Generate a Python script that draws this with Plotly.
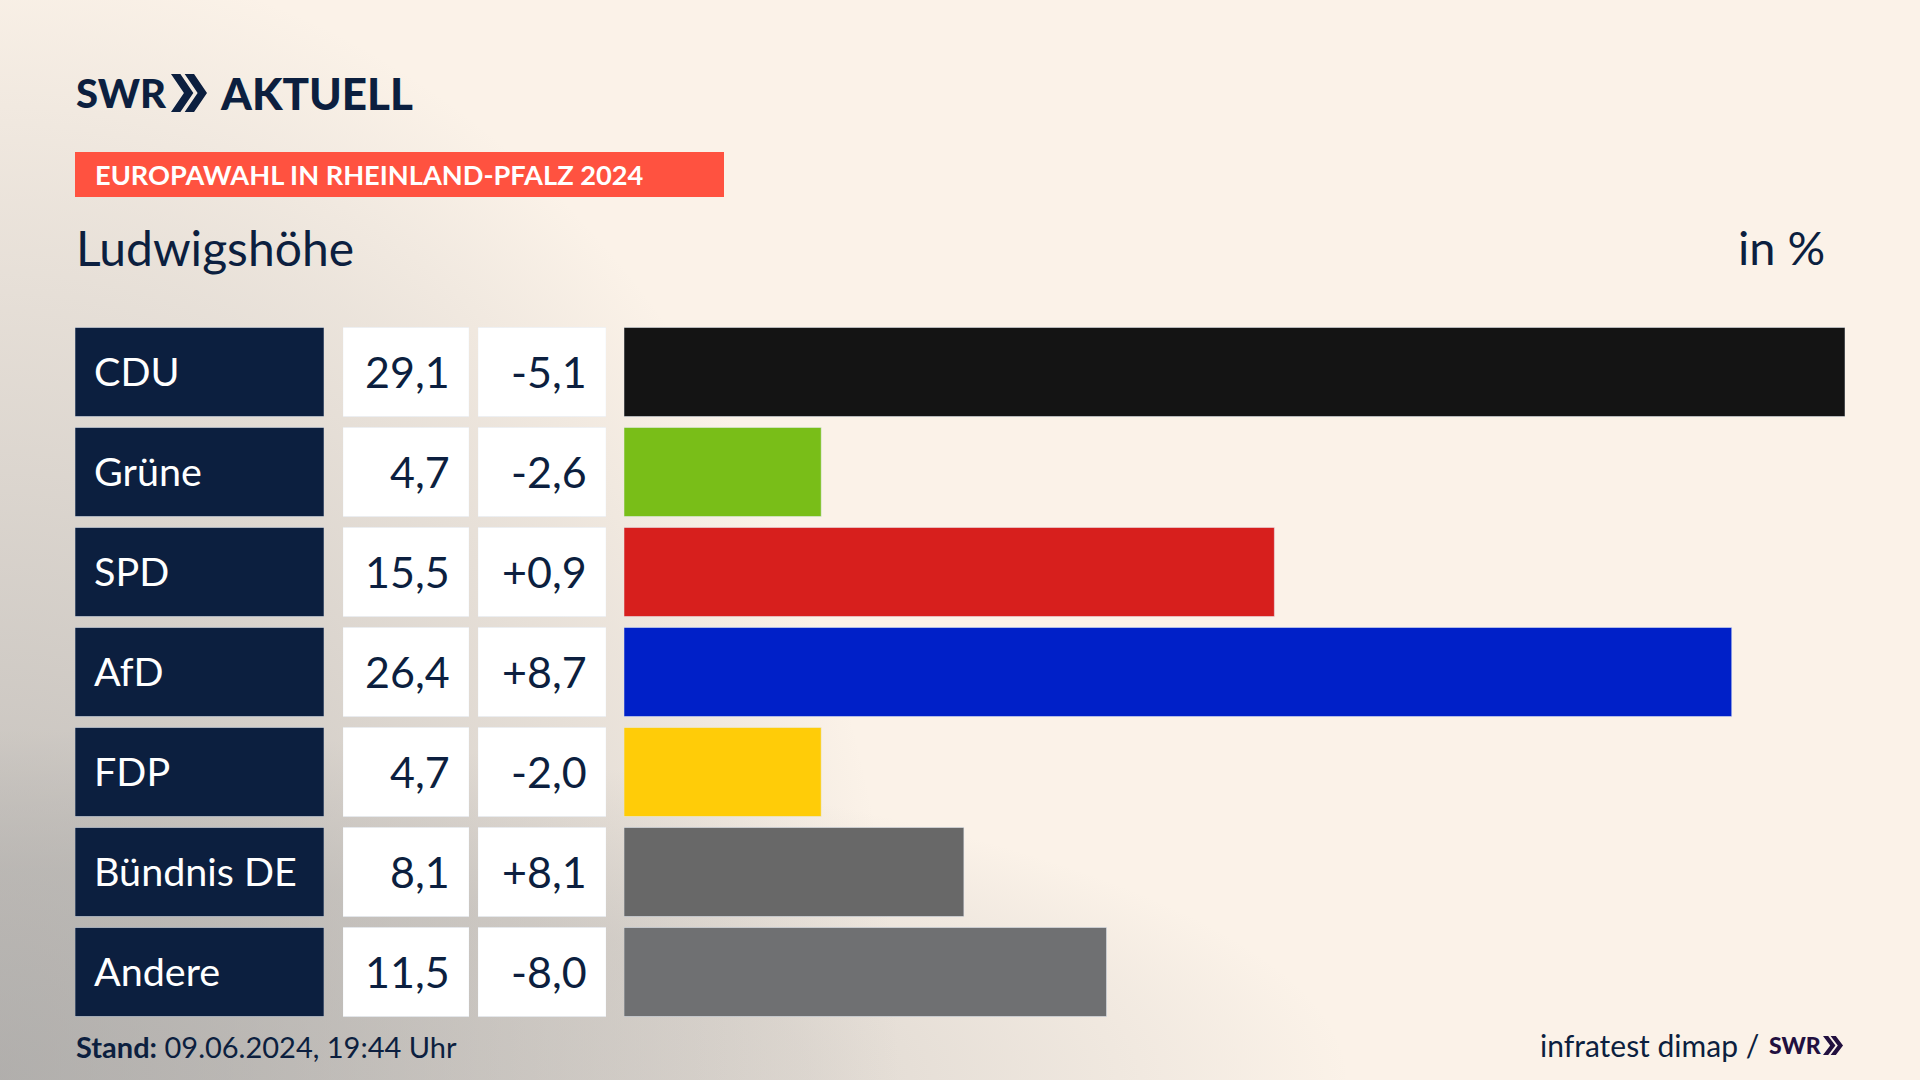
import base64
import plotly.graph_objects as go

parties = ["CDU", "Grüne", "SPD", "AfD", "FDP", "Bündnis DE", "Andere"]
shares = [29.1, 4.7, 15.5, 26.4, 4.7, 8.1, 11.5]
share_labels = ["29,1", "4,7", "15,5", "26,4", "4,7", "8,1", "11,5"]
change_labels = ["-5,1", "-2,6", "+0,9", "+8,7", "-2,0", "+8,1", "-8,0"]
colors = ["#141414", "#79BE18", "#D71F1D", "#0020C8", "#FFCC08", "#686868", "#6F7072"]

W, H = 1920, 1080
NAVY = "#0C1F3F"
BODY = "Lato"

def px(x): return x / W
def py(y): return 1 - y / H

def grad(id_, rx, ry, stops):
    s = "".join(f'<stop offset="{o}" stop-color="#989898" stop-opacity="{a}"/>' for o, a in stops)
    return (f'<radialGradient id="{id_}" gradientUnits="userSpaceOnUse" cx="0" cy="0" r="1" '
            f'gradientTransform="translate(0 {H}) scale({rx} {ry})">{s}</radialGradient>')

svg = (f'<svg xmlns="http://www.w3.org/2000/svg" width="{W}" height="{H}"><defs>'
       + grad("a", 1350, 350, [(0, .34), (.6, .26), (1, 0)])
       + grad("b", 900, 1130, [(0, .62), (.25, .5), (.48, .35), (.78, .16), (1, 0)])
       + f'</defs><rect width="{W}" height="{H}" fill="#FBF2E8"/>'
       + f'<rect width="{W}" height="{H}" fill="url(#a)"/><rect width="{W}" height="{H}" fill="url(#b)"/></svg>')
bg = "data:image/svg+xml;base64," + base64.b64encode(svg.encode()).decode()

def chevrons(x0, y0, x1, y1, color):
    w = (x1 - x0) * 0.62
    notch = w * 0.42
    out = []
    for off in (0, (x1 - x0) - w):
        a = x0 + off
        ym = (y0 + y1) / 2
        pts = [(a, y0), (a + notch, y0), (a + w, ym), (a + notch, y1), (a, y1), (a + w - notch, ym)]
        d = "M " + " L ".join(f"{px(x):.5f},{py(y):.5f}" for x, y in pts) + " Z"
        out.append(dict(type="path", xref="paper", yref="paper", path=d, fillcolor=color, line_width=0, layer="above"))
    return out

fig = go.Figure()
cell_extent = [1] * len(parties)
BAR_W = 0.89
fig.add_bar(x=cell_extent, y=parties, orientation="h", xaxis="x2", yaxis="y", marker_color=NAVY, width=BAR_W, hoverinfo="skip")
fig.add_bar(x=cell_extent, y=parties, orientation="h", xaxis="x3", yaxis="y", marker_color="#FFFFFF", width=BAR_W, hoverinfo="skip")
fig.add_bar(x=cell_extent, y=parties, orientation="h", xaxis="x4", yaxis="y", marker_color="#FFFFFF", width=BAR_W, hoverinfo="skip")
fig.add_bar(x=shares, y=parties, orientation="h", xaxis="x", yaxis="y", marker_color=colors, width=BAR_W)

ann = []
def text(s, x, y, size, color=NAVY, anchor="left", weight=None):
    f = dict(family=BODY, size=size, color=color)
    if weight:
        f["weight"] = weight
    ann.append(dict(text=s, x=px(x), y=py(y), xref="paper", yref="paper", xanchor=anchor, yanchor="middle",
                    showarrow=False, font=f, borderpad=0))

for p, s, c in zip(parties, share_labels, change_labels):
    ann.append(dict(text=p, x=0, xref="x2", y=p, yref="y", xanchor="left", xshift=17, yshift=2, showarrow=False,
                    font=dict(family=BODY, size=39.5, color="#FFFFFF")))
    ann.append(dict(text=s, x=1, xref="x3", y=p, yref="y", xanchor="right", xshift=-17, yshift=1, showarrow=False,
                    font=dict(family=BODY, size=43, color=NAVY)))
    ann.append(dict(text=c, x=1, xref="x4", y=p, yref="y", xanchor="right", xshift=-17, yshift=1, showarrow=False,
                    font=dict(family=BODY, size=43, color=NAVY)))

text("SWR", 75, 93, 40, weight=900)
text("AKTUELL", 219, 93, 44, weight=900)
text("EUROPAWAHL IN RHEINLAND-PFALZ 2024", 94, 175, 27.2, color="#FFFFFF", weight=700)
text("Ludwigshöhe", 75, 247, 48)
text("in %", 1826, 247, 47, anchor="right")
text("<b>Stand:</b> 09.06.2024, 19:44 Uhr", 75, 1046, 29)
text("infratest dimap /", 1760, 1045, 30, anchor="right")
text("SWR", 1768, 1045, 23, color="#22103F", weight=900)

shapes = [dict(type="rect", xref="paper", yref="paper", x0=px(75), x1=px(724), y0=py(152), y1=py(197),
               fillcolor="#FF5240", line_width=0, layer="below")]
shapes += chevrons(171, 74, 207, 112, NAVY)
shapes += chevrons(1823, 1036, 1843, 1055, "#22103F")

hidden = dict(visible=False, fixedrange=True)
ytop, ybot = 322, 1022
fig.update_layout(
    width=W, height=H, margin=dict(l=0, r=0, t=0, b=0), autosize=False,
    paper_bgcolor="#FBF2E8", plot_bgcolor="rgba(0,0,0,0)", showlegend=False, barmode="overlay",
    xaxis=dict(domain=[px(624), px(1845)], range=[0, 29.1], **hidden),
    xaxis2=dict(domain=[px(75), px(324)], range=[0, 1], anchor="y", **hidden),
    xaxis3=dict(domain=[px(343), px(469)], range=[0, 1], anchor="y", **hidden),
    xaxis4=dict(domain=[px(478), px(606)], range=[0, 1], anchor="y", **hidden),
    yaxis=dict(domain=[py(ybot), py(ytop)], categoryorder="array", categoryarray=parties,
               range=[6.5, -0.5], **hidden),
    images=[dict(source=bg, xref="paper", yref="paper", x=0, y=1, sizex=1, sizey=1,
                 xanchor="left", yanchor="top", sizing="stretch", layer="below")],
    shapes=shapes, annotations=ann,
)
fig.write_html("out.html", config=dict(displayModeBar=False),
               post_script="document.body.style.margin='0';document.body.style.overflow='hidden';")
